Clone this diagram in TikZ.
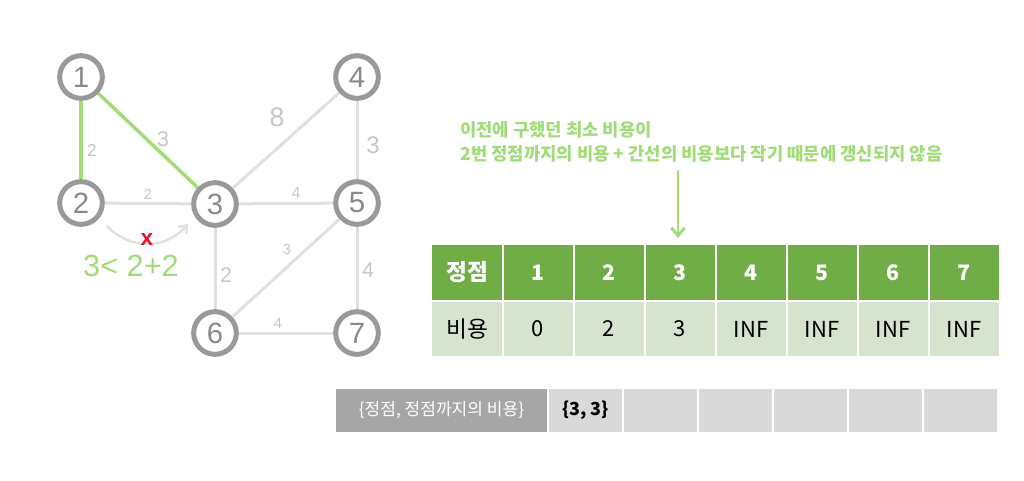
\documentclass[tikz,border=0pt]{standalone}
\usepackage{fontspec}
\setmainfont{Noto Sans CJK KR}
\newfontfamily\hand{Liberation Sans}
\usetikzlibrary{arrows.meta}
\definecolor{nodegray}{HTML}{999999}
\definecolor{numgray}{HTML}{8A8A8A}
\definecolor{edgegray}{HTML}{E0E0E0}
\definecolor{labgray}{HTML}{C6C6C6}
\definecolor{lgreen}{HTML}{A0DC78}
\definecolor{hgreen}{HTML}{70AD47}
\definecolor{rgreen}{HTML}{D6E3CE}
\definecolor{dgray}{HTML}{A6A6A6}
\definecolor{cgray}{HTML}{D9D9D9}
\definecolor{xred}{HTML}{E8102A}
\begin{document}
\begin{tikzpicture}[x=0.75pt,y=-0.75pt,
  vertex/.style={circle, draw=nodegray, line width=3.75pt, minimum size=32pt, inner sep=0pt, fill=white, text=numgray, font=\hand\fontsize{22}{22}\selectfont},
  gedge/.style={draw=edgegray, line width=2.25pt},
  greenedge/.style={draw=lgreen, line width=2.6pt},
  elab/.style={text=labgray, inner sep=0pt, font=\hand\fontsize{#1}{#1}\selectfont},
  headcell/.style={fill=hgreen, text=white, inner sep=0pt, minimum height=41.25pt, minimum width=51.75pt, font=\bfseries\fontsize{16}{16}\selectfont},
  bodycell/.style={fill=rgreen, text=black, inner sep=0pt, minimum height=40.5pt, minimum width=51.75pt, font=\fontsize{16.5}{16.5}\selectfont},
  qcell/.style={fill=cgray, inner sep=0pt, minimum height=32.25pt, minimum width=54.75pt}
]
\useasboundingbox (0,0) rectangle (1024,480);

% graph nodes
\node[vertex] (n1) at (81,77) {1};
\node[vertex] (n2) at (81,203) {2};
\node[vertex] (n3) at (215,204) {3};
\node[vertex] (n4) at (357,77) {4};
\node[vertex] (n5) at (357,203) {5};
\node[vertex] (n6) at (215,333) {6};
\node[vertex] (n7) at (357,333) {7};

% edges
\draw[gedge] (n2) -- (n3);
\draw[gedge] (n3) -- (n4);
\draw[gedge] (n3) -- (n5);
\draw[gedge] (n4) -- (n5);
\draw[gedge] (n3) -- (n6);
\draw[gedge] (n5) -- (n6);
\draw[gedge] (n5) -- (n7);
\draw[gedge] (n6) -- (n7);
\draw[greenedge] (n1) -- (n2);
\draw[greenedge] (n1) -- (n3);

% edge labels
\node[elab=13] (l12) at (92,150) {2};
\node[elab=16] (l13) at (163,139) {3};
\node[elab=11] (l23) at (148,194) {2};
\node[elab=20] (l34) at (277,117) {8};
\node[elab=18] (l45) at (373,145) {3};
\node[elab=12] (l35) at (296,193) {4};
\node[elab=16] (l36) at (226,275) {2};
\node[elab=11] (l56) at (287,249) {3};
\node[elab=16] (l57) at (368,270) {4};
\node[elab=11] (l67) at (278,323) {4};

% curved arrow and note
\coordinate (ca) at (107,226);
\coordinate (cb) at (188,224);
\draw[edgegray, line width=1.8pt, -{Straight Barb[length=5pt,width=8pt]}] (ca) .. controls (130,250) and (165,250) .. (cb);
\node[text=xred, inner sep=0pt, font=\hand\bfseries\fontsize{17}{17}\selectfont] (xx) at (147,240) {x};
\node[text=lgreen, inner sep=0pt, font=\hand\fontsize{23}{23}\selectfont] (ineq) at (131,266) {3< 2+2};

% explanation text
\node[anchor=west, align=left, text=lgreen, inner sep=0pt, font=\bfseries\fontsize{13.3}{18}\selectfont] (note) at (460,142) {이전에 구했던 최소 비용이\\2번 정점까지의 비용 + 간선의 비용보다 작기 때문에 갱신되지 않음};
\coordinate (at) at (678,170);
\coordinate (ab) at (678,238);
\draw[lgreen, line width=2.2pt, -{Straight Barb[length=6pt,width=10pt]}] (at) -- (ab);

% table
\node[headcell, minimum width=52.5pt, font=\bfseries\fontsize{17}{17}\selectfont] (h0) at (467,272.5) {정점};
\node[bodycell, minimum width=52.5pt, font=\fontsize{17}{17}\selectfont] (b0) at (467,329) {비용};
\foreach \i/\v in {1/0,2/2,3/3,4/INF,5/INF,6/INF,7/INF}{
  \node[headcell] (h\i) at ({467+71*\i},272.5) {\i};
  \node[bodycell] (b\i) at ({467+71*\i},329) {\v};
}

% queue
\node[fill=dgray, text=white, inner sep=0pt, minimum width=158.25pt, minimum height=32.25pt, font=\fontsize{12.8}{12.8}\selectfont] (q0) at (441.5,410.5) {\{정점, 정점까지의 비용\}};
\node[qcell, font=\bfseries\fontsize{13.5}{13.5}\selectfont] (q1) at (585.5,410.5) {\{3, 3\}};
\foreach \i in {2,...,6}{
  \node[qcell] (q\i) at ({585.5+75*(\i-1)},410.5) {};
}
\end{tikzpicture}
\end{document}
